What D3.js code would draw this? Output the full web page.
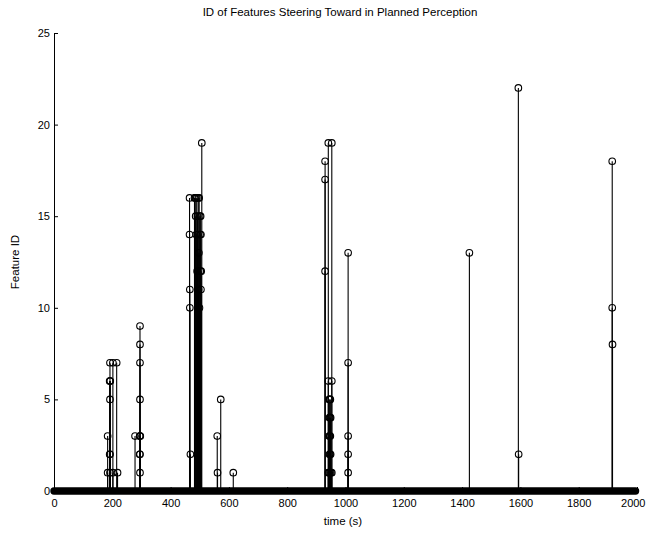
<!DOCTYPE html>
<html>
<head>
<meta charset="utf-8">
<script src="https://cdn.jsdelivr.net/npm/d3@7"></script>
<style>
  body { margin: 0; background: #fff; }
  text { font-family: "Liberation Sans", Arial, sans-serif; fill: #000; }
</style>
</head>
<body>
<div class="chart-area"></div>
<script>
// [time (s), feature ID] pairs
var cluster200 = [
    [184, 3], [184, 1],
    [191, 6], [192, 7], [192, 6], [193, 6], [192, 5], [191, 2], [192, 2], [192, 1],
    [202, 7], [202, 1],
    [215, 7], [218, 1],
    [278, 3],
    [294, 3], [295, 9], [295, 8], [295, 7], [295, 5], [295, 3], [296, 3], [294, 2], [295, 2], [295, 1]
];
var cluster500 = [
    [465, 16], [465, 14], [466, 11], [466, 10], [468, 2],
    [482, 16], [484, 16], [486, 15], [487, 16], [488, 14], [490, 16], [491, 12],
    [492, 15], [494, 14], [495, 16], [496, 11], [497, 13], [498, 16], [499, 10],
    [500, 15], [501, 14], [502, 12], [503, 15], [504, 14], [504, 11], [505, 12],
    [507, 19],
    [560, 3], [561, 1], [572, 5], [615, 1]
];
var cluster950 = [
    [930, 18], [930, 17], [930, 12],
    [941, 19], [941, 6], [953, 19], [953, 6],
    [944, 5], [946, 5], [948, 5], [945, 4], [947, 4], [949, 4],
    [944, 3], [946, 3], [948, 3], [945, 2], [947, 2], [949, 2],
    [941, 1], [944, 1], [947, 1], [950, 1], [953, 1],
    [1009, 13], [1009, 7], [1009, 3], [1009, 2], [1009, 1]
];
var isolated = [
    [1425, 13],
    [1593, 22], [1594, 2],
    [1915, 18], [1915, 10], [1916, 8]
];
// samples with ID 0 cover the whole run
var zeroSpan = [0, 1995];

var xTicks = [0, 200, 400, 600, 800, 1000, 1200, 1400, 1600, 1800, 2000];
var yTicks = [0, 5, 10, 15, 20, 25];

var events = cluster200.concat(cluster500, cluster950, isolated);

var svg = d3.select(".chart-area").append("svg")
    .attr("width", 646)
    .attr("height", 535);

var x = d3.scaleLinear().domain([0, 2000]).range([54, 637]);
var y = d3.scaleLinear().domain([0, 25]).range([491, 33]);

// axes, ticks pointing inward like matlab
svg.append("g")
    .attr("transform", "translate(54,0)")
    .call(d3.axisLeft(y).tickValues(yTicks).tickFormat(d3.format("d"))
        .tickSizeInner(-4).tickSizeOuter(-4).tickPadding(4))
    .call(function(g) {
        g.selectAll("text").style("font-size", "11px");
        g.select(".domain").attr("stroke-width", 1);
    });

svg.append("g")
    .attr("transform", "translate(0,491)")
    .call(d3.axisBottom(x).tickValues(xTicks).tickFormat(d3.format("d"))
        .tickSizeInner(-4).tickSizeOuter(0).tickPadding(8))
    .call(function(g) {
        g.selectAll("text").style("font-size", "11px");
        g.select(".domain").remove();
        // last label sits on the right edge of the window
        g.selectAll(".tick").filter(function(d) { return d === 2000; })
            .select("text").attr("text-anchor", "end").attr("dx", 8);
    });

// zero-valued stems merge into a thick band
svg.append("line")
    .attr("x1", x(zeroSpan[0]))
    .attr("x2", x(zeroSpan[1]))
    .attr("y1", y(0))
    .attr("y2", y(0))
    .attr("stroke", "#000")
    .attr("stroke-width", 7.4)
    .attr("stroke-linecap", "round");

// stems
svg.selectAll("line.stem")
    .data(events)
    .enter()
    .append("line")
    .attr("class", "stem")
    .attr("x1", function(d) { return x(d[0]); })
    .attr("x2", function(d) { return x(d[0]); })
    .attr("y1", y(0))
    .attr("y2", function(d) { return y(d[1]); })
    .attr("stroke", "#000")
    .attr("stroke-width", 1.1);

// markers
svg.selectAll("circle.mark")
    .data(events)
    .enter()
    .append("circle")
    .attr("class", "mark")
    .attr("cx", function(d) { return x(d[0]); })
    .attr("cy", function(d) { return y(d[1]); })
    .attr("r", 3.3)
    .attr("fill", "none")
    .attr("stroke", "#000")
    .attr("stroke-width", 1.1);

// titles
svg.append("text")
    .attr("x", 340)
    .attr("y", 16)
    .attr("text-anchor", "middle")
    .style("font-size", "11.5px")
    .text("ID of Features Steering Toward in Planned Perception");

svg.append("text")
    .attr("x", 343)
    .attr("y", 525)
    .attr("text-anchor", "middle")
    .style("font-size", "11.5px")
    .text("time (s)");

svg.append("text")
    .attr("transform", "translate(19,262) rotate(-90)")
    .attr("text-anchor", "middle")
    .style("font-size", "11.5px")
    .text("Feature ID");
</script>
</body>
</html>
